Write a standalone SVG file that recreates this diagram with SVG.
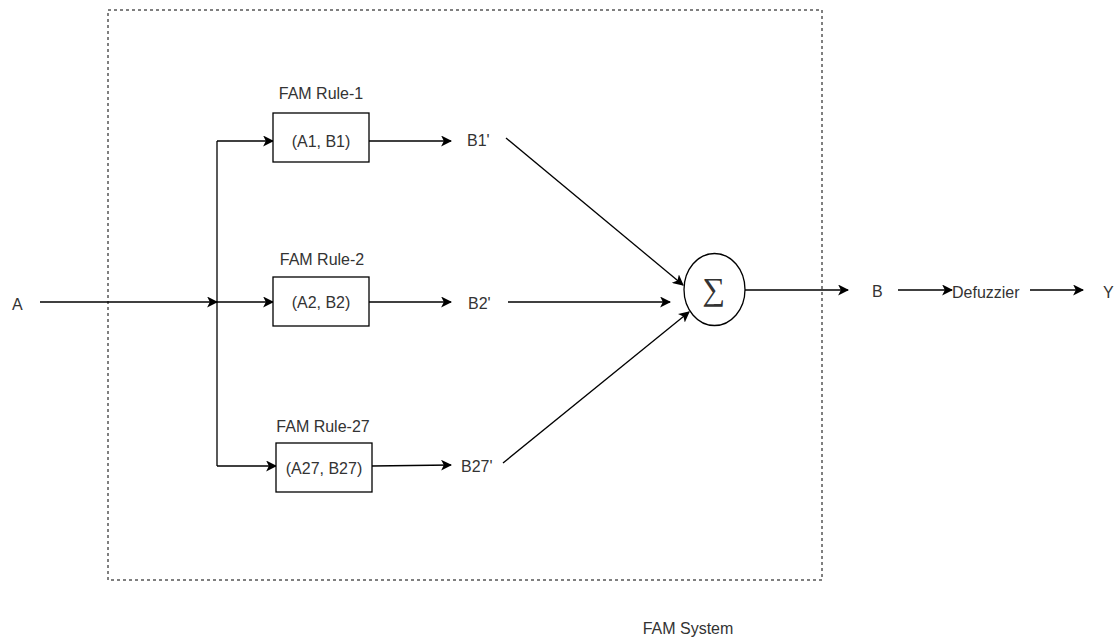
<svg xmlns="http://www.w3.org/2000/svg" width="1118" height="637" viewBox="0 0 1118 637">
<defs>
<marker id="arr" viewBox="0 0 10 10" refX="9" refY="5" markerWidth="11" markerHeight="11" markerUnits="userSpaceOnUse" orient="auto">
<path d="M0,0 L10,5 L0,10 L2.5,5 Z" fill="#000"/>
</marker>
</defs>
<style>
text{font-family:"Liberation Sans",Arial,sans-serif;font-size:16px;fill:#333;}
.c{text-anchor:middle;}
.box{fill:#fff;stroke:#000;stroke-width:1.3;}
.ln{fill:none;stroke:#000;stroke-width:1.3;}
.ar{fill:none;stroke:#000;stroke-width:1.3;marker-end:url(#arr);}
</style>
<rect x="108" y="10" width="714" height="570" fill="none" stroke="#000" stroke-width="1" stroke-dasharray="3,3"/>
<text class="c" x="688" y="634">FAM System</text>
<g id="connectors">
<line class="ar" x1="40" y1="302" x2="217" y2="302"/>
<line class="ln" x1="217" y1="141" x2="217" y2="466"/>
<line class="ar" x1="217" y1="141" x2="273" y2="141"/>
<line class="ar" x1="217" y1="302" x2="273" y2="302"/>
<line class="ar" x1="217" y1="466" x2="276" y2="466"/>
<line class="ar" x1="369" y1="141" x2="451" y2="141"/>
<line class="ar" x1="369" y1="302" x2="451" y2="302"/>
<line class="ar" x1="372" y1="466" x2="451" y2="465"/>
<line class="ar" x1="506" y1="138" x2="683" y2="285"/>
<line class="ar" x1="508" y1="302" x2="670" y2="302"/>
<line class="ar" x1="503" y1="463" x2="689" y2="312"/>
<line class="ar" x1="745" y1="290" x2="848" y2="290"/>
<line class="ar" x1="898" y1="290" x2="952" y2="290"/>
<line class="ar" x1="1030" y1="290" x2="1083" y2="290"/>
</g>
<g id="input-A"><text x="12" y="310">A</text></g>
<g id="rule1">
<text class="c" x="321" y="99">FAM Rule-1</text>
<rect class="box" x="273" y="113" width="96" height="49"/>
<text class="c" x="321" y="147">(A1, B1)</text>
</g>
<g id="rule2">
<text class="c" x="322" y="265">FAM Rule-2</text>
<rect class="box" x="273" y="277" width="96" height="49"/>
<text class="c" x="321" y="308">(A2, B2)</text>
</g>
<g id="rule27">
<text class="c" x="323" y="432">FAM Rule-27</text>
<rect class="box" x="276" y="443" width="96" height="49"/>
<text class="c" x="324" y="474">(A27, B27)</text>
</g>
<g id="b1"><text x="467" y="146">B1'</text></g>
<g id="b2"><text x="468" y="309">B2'</text></g>
<g id="b27"><text x="461" y="472">B27'</text></g>
<g id="sum">
<ellipse class="box" cx="714.5" cy="289.5" rx="30.5" ry="36"/>
<text class="c" x="714" y="300" style="font-family:'Liberation Serif','DejaVu Serif',serif;font-size:32px;">∑</text>
</g>
<g id="b"><text x="872" y="297">B</text></g>
<g id="defuzzier"><text x="952" y="298">Defuzzier</text></g>
<g id="y"><text x="1103" y="298">Y</text></g>
</svg>
